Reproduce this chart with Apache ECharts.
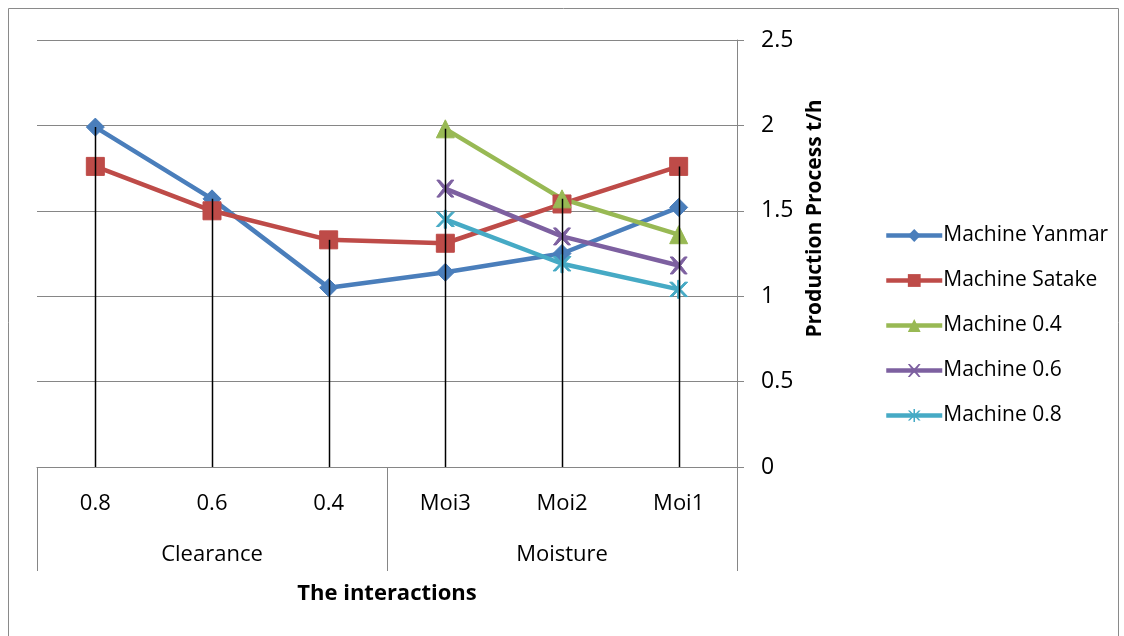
<!DOCTYPE html>
<html>
<head>
<meta charset="utf-8">
<script src="https://cdn.jsdelivr.net/npm/echarts@6/dist/echarts.min.js"></script>
<style>html,body{margin:0;padding:0;background:#fff;}#c{width:1124px;height:636px;}</style>
</head>
<body>
<div id="c"></div>
<script>
var categories = ['0.8', '0.6', '0.4', 'Moi3', 'Moi2', 'Moi1'];
var groups = ['Clearance', 'Moisture'];
var yanmar = [1.99, 1.57, 1.05, 1.14, 1.25, 1.52];
var satake = [1.76, 1.50, 1.33, 1.31, 1.54, 1.76];
var machine04 = [null, null, null, 1.98, 1.57, 1.36];
var machine06 = [null, null, null, 1.63, 1.35, 1.18];
var machine08 = [null, null, null, 1.45, 1.19, 1.04];
var yTicks = [0, 0.5, 1, 1.5, 2, 2.5];

var FONT = '"Open Sans", "Noto Sans", sans-serif';
var GRID = '#868686';
var X_PATH = 'path://M0,0 L1.6,0 L5,3.6 L8.4,0 L10,0 L6.2,5 L10,10 L8.4,10 L5,6.4 L1.6,10 L0,10 L3.8,5 Z';
var AST_PATH = 'path://M0,1 L1.6,1 L4.4,4 L4.4,0 L5.6,0 L5.6,4 L8.4,1 L10,1 L6.2,5 L10,9 L8.4,9 L5.6,6 L5.6,10 L4.4,10 L4.4,6 L1.6,9 L0,9 L3.8,5 Z';

var allSeries = [yanmar, satake, machine04, machine06, machine08];
var dropData = categories.map(function (c, i) {
  var m = -Infinity;
  allSeries.forEach(function (s) { if (s[i] != null && s[i] > m) m = s[i]; });
  return [i, m];
});

function lineSeries(name, data, color, symbol, size) {
  return {
    name: name, type: 'line', data: data, xAxisIndex: 0, yAxisIndex: 0,
    symbol: symbol, symbolSize: size, showSymbol: true, connectNulls: false,
    lineStyle: { color: color, width: 4.5 },
    itemStyle: { color: color, borderColor: color },
    emphasis: { disabled: true }, z: 3
  };
}

var chart = echarts.init(document.getElementById('c'), null, { renderer: 'canvas' });
chart.setOption({
  animation: false,
  backgroundColor: '#fff',
  textStyle: { fontFamily: FONT },
  grid: { left: 37, right: 387, top: 40, bottom: 169, containLabel: false },
  graphic: [{
    type: 'rect', shape: { x: 8.5, y: 8.5, width: 1110, height: 640 },
    style: { fill: 'none', stroke: '#8a8a8a', lineWidth: 1 }, z: -10
  }],
  legend: {
    data: ['Machine Yanmar', 'Machine Satake', 'Machine 0.4', 'Machine 0.6', 'Machine 0.8'],
    orient: 'vertical', left: 879, top: 220, itemGap: 24, itemWidth: 56, itemHeight: 16,
    lineStyle: { width: 4.5 },
    textStyle: { fontFamily: FONT, fontSize: 21, color: '#000', padding: [0, 0, 0, -4] },
    selectedMode: false
  },
  xAxis: [{
    type: 'category', data: categories, position: 'bottom',
    axisLine: { show: true, lineStyle: { color: GRID, width: 1 } },
    axisTick: { show: false },
    axisLabel: { margin: 26, fontSize: 22, color: '#000', fontFamily: FONT, interval: 0 },
    splitLine: { show: false }
  }, {
    type: 'category', data: groups, position: 'bottom', gridIndex: 0,
    axisLine: { show: false },
    axisTick: { show: true, length: 104, interval: 0, lineStyle: { color: GRID, width: 1 } },
    axisLabel: { margin: 77, fontSize: 22, color: '#000', fontFamily: FONT, interval: 0 },
    name: 'The interactions', nameLocation: 'middle', nameGap: 116,
    nameTextStyle: { fontSize: 22, fontWeight: 'bold', color: '#000', fontFamily: FONT }
  }],
  yAxis: [{
    type: 'value', position: 'right', min: 0, max: 2.5, interval: 0.5,
    axisLine: { show: true, lineStyle: { color: GRID, width: 1 } },
    axisTick: { show: true, inside: false, length: 7, lineStyle: { color: GRID } },
    axisLabel: { margin: 24, fontSize: 23, color: '#000', fontFamily: FONT,
      formatter: function (v) { return yTicks.indexOf(v) >= 0 ? String(v) : ''; } },
    splitLine: { show: true, lineStyle: { color: GRID, width: 1 } },
    name: 'Production Process t/h', nameLocation: 'middle', nameRotate: 90, nameGap: 68,
    nameTextStyle: { fontSize: 21, fontWeight: 'bold', color: '#000', fontFamily: FONT, padding: [0, 0, 0, 70] }
  }],
  series: [
    lineSeries('Machine Yanmar', yanmar, '#4A7EBB', 'diamond', 18),
    lineSeries('Machine Satake', satake, '#BE4B48', 'rect', 18),
    lineSeries('Machine 0.4', machine04, '#98B954', 'triangle', 18),
    lineSeries('Machine 0.6', machine06, '#7D60A0', X_PATH, 17),
    lineSeries('Machine 0.8', machine08, '#46AAC5', AST_PATH, 18),
    {
      name: 'drop', type: 'custom', xAxisIndex: 0, yAxisIndex: 0, data: dropData, z: 10,
      renderItem: function (params, api) {
        var top = api.coord([api.value(0), api.value(1)]);
        var bot = api.coord([api.value(0), 0]);
        return { type: 'line', shape: { x1: Math.round(top[0]) + 0.5, y1: top[1], x2: Math.round(bot[0]) + 0.5, y2: bot[1] },
          style: { stroke: '#000', lineWidth: 1.5 } };
      },
      silent: true
    }
  ]
});
</script>
</body>
</html>
